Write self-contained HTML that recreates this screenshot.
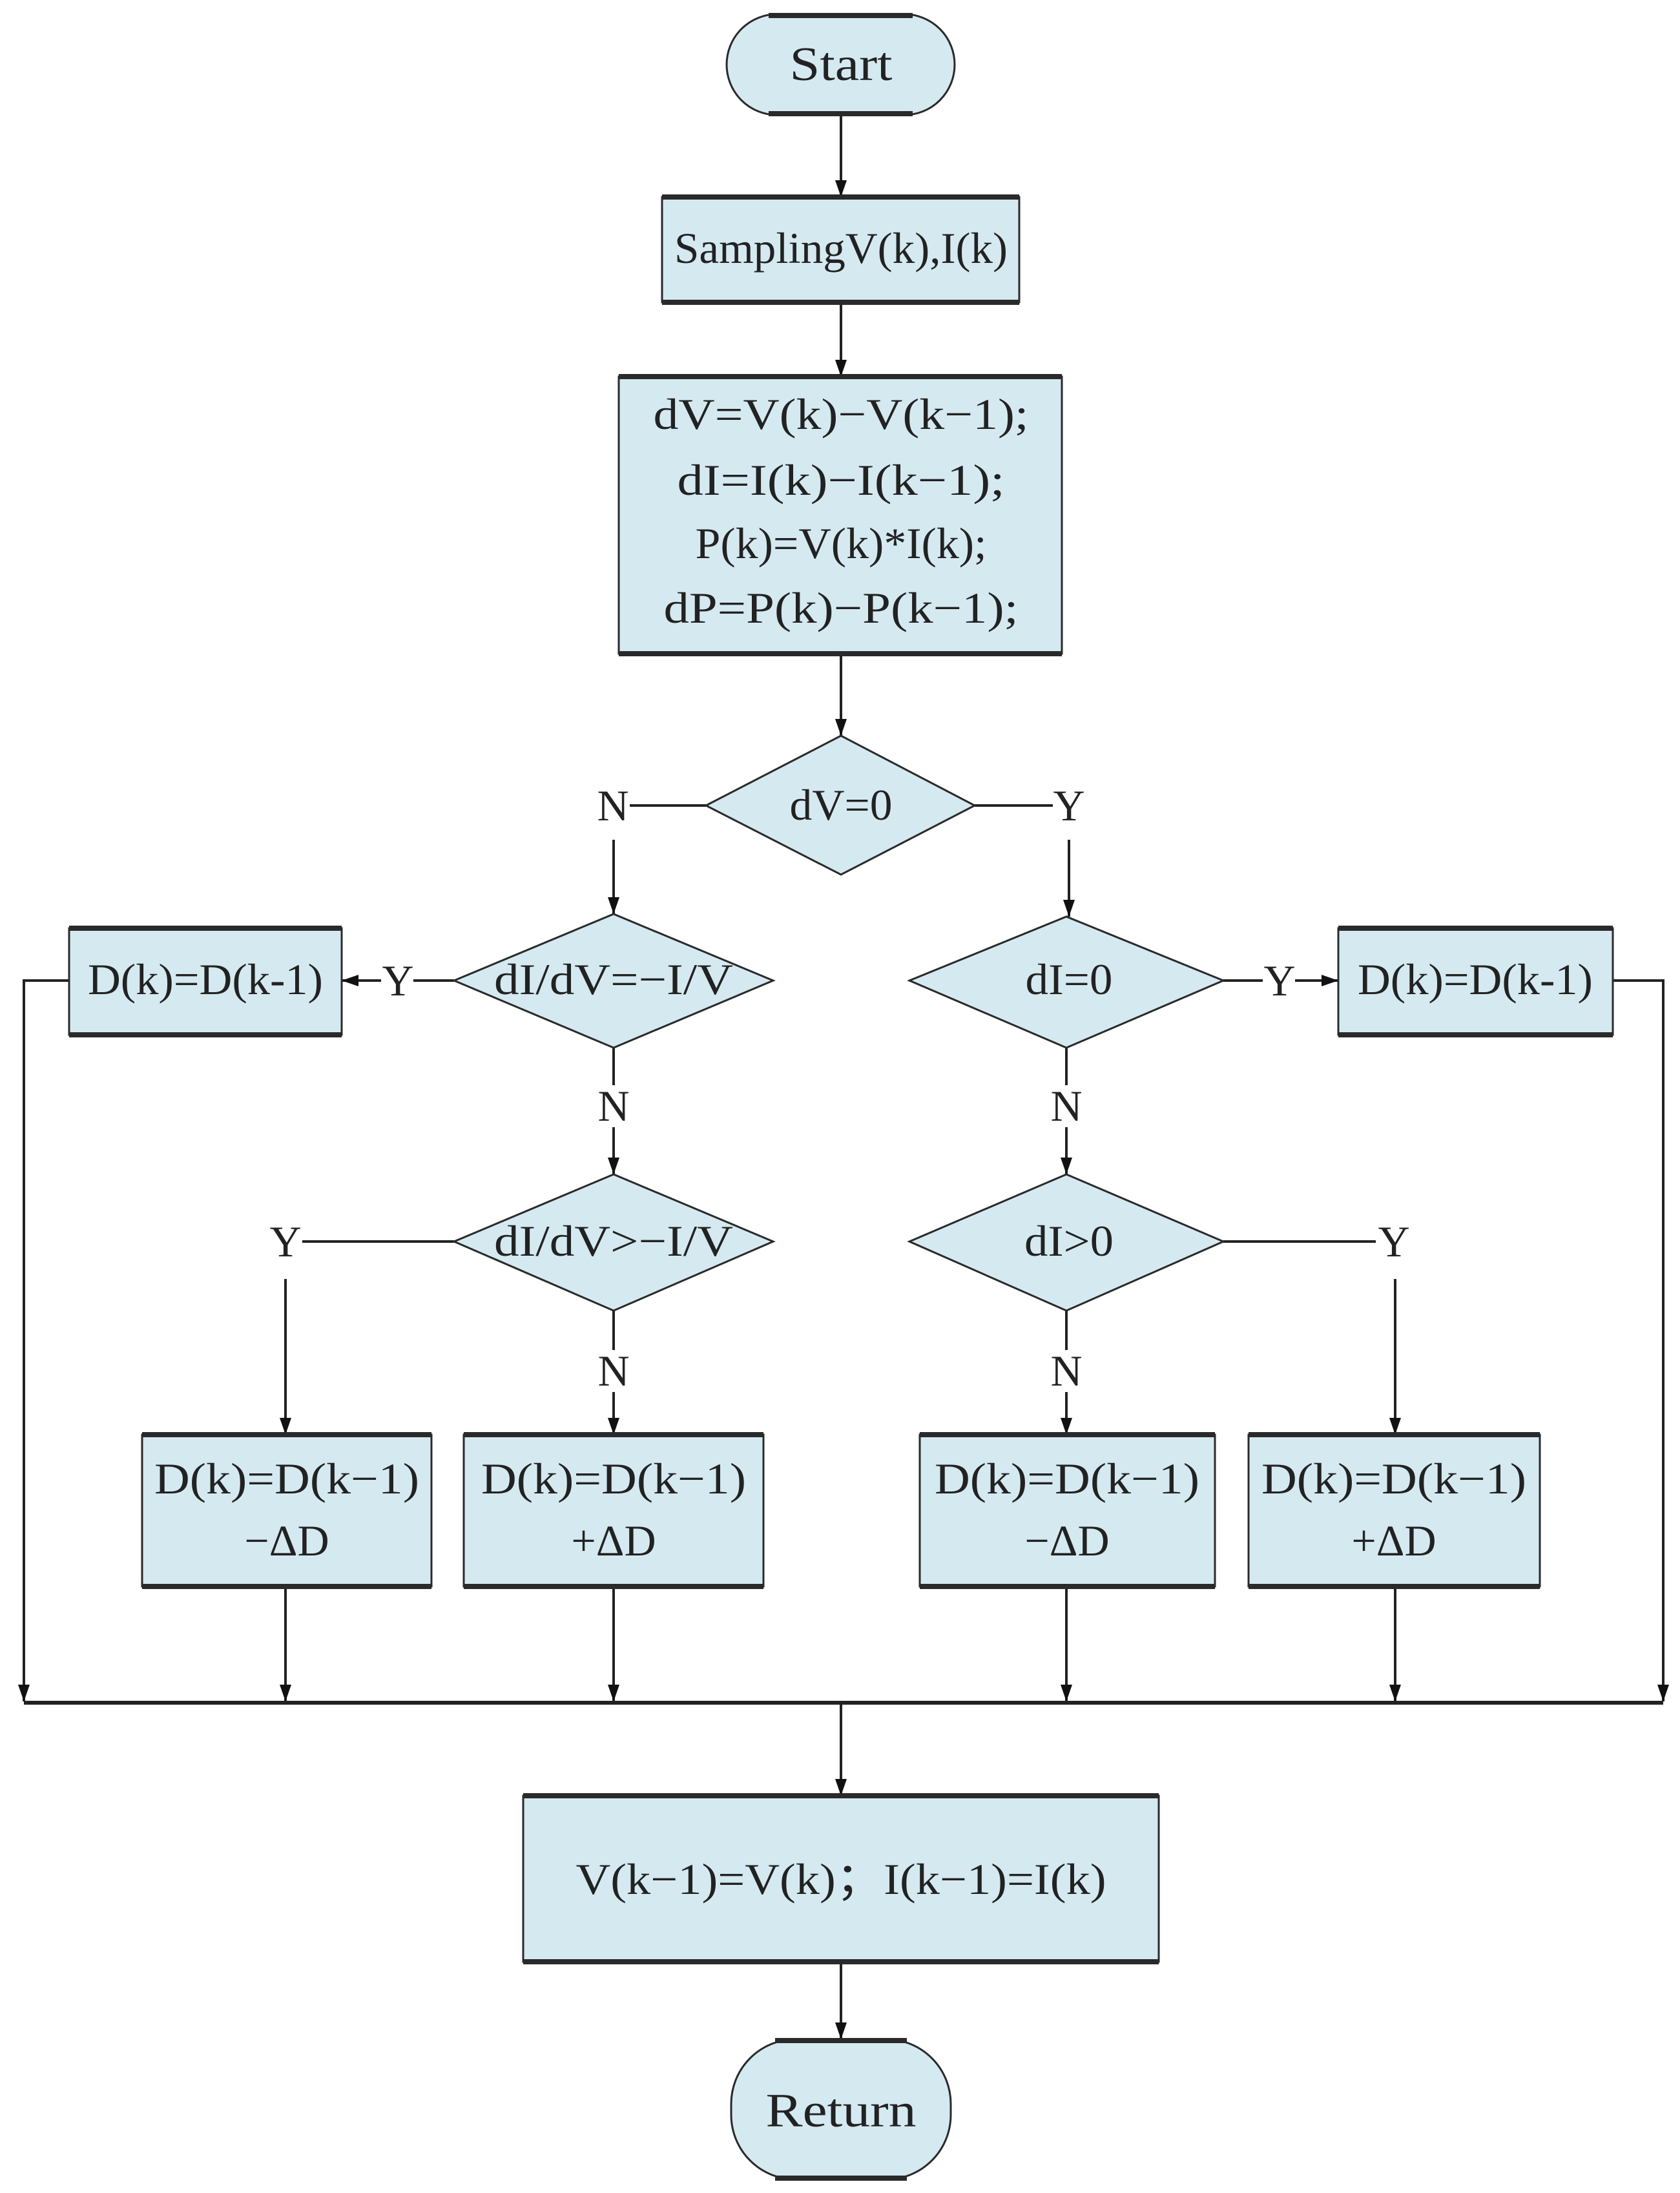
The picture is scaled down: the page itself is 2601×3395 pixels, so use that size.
<!DOCTYPE html>
<html><head><meta charset="utf-8"><style>html,body{margin:0;padding:0;background:#fff}svg{display:block}</style></head>
<body>
<svg width="2601" height="3395" viewBox="0 0 2601 3395" xmlns="http://www.w3.org/2000/svg" font-family="'Liberation Serif', serif" fill="#222">
<defs><marker id="a" markerWidth="12" markerHeight="12" refX="11" refY="6" orient="auto" markerUnits="userSpaceOnUse" viewBox="0 0 12 12"><path d="M0,0 L12,6 L0,12 Z" fill="#111"/></marker>
<marker id="b" markerWidth="26" markerHeight="34" refX="26" refY="9" orient="auto" markerUnits="userSpaceOnUse" viewBox="0 0 26 18"><path d="M0,0 L26,9 L0,18 Z" fill="#111"/></marker></defs>
<g stroke="#222" stroke-width="4" fill="none">
<!-- connectors -->
<line x1="1302" y1="178" x2="1302" y2="305" marker-end="url(#b)"/>
<line x1="1302" y1="468" x2="1302" y2="583" marker-end="url(#b)"/>
<line x1="1302" y1="1012" x2="1302" y2="1139" marker-end="url(#b)"/>
<line x1="975" y1="1247" x2="1093" y2="1247"/>
<line x1="1509" y1="1247" x2="1630" y2="1247"/>
<line x1="950" y1="1300" x2="950" y2="1415" marker-end="url(#b)"/>
<line x1="1655" y1="1300" x2="1655" y2="1419" marker-end="url(#b)"/>
<line x1="703" y1="1518" x2="640" y2="1518"/>
<line x1="590" y1="1518" x2="529" y2="1518" marker-end="url(#b)"/>
<line x1="1894" y1="1518" x2="1955" y2="1518"/>
<line x1="2005" y1="1518" x2="2072" y2="1518" marker-end="url(#b)"/>
<line x1="950" y1="1622" x2="950" y2="1680"/>
<line x1="950" y1="1745" x2="950" y2="1818" marker-end="url(#b)"/>
<line x1="1651" y1="1622" x2="1651" y2="1680"/>
<line x1="1651" y1="1745" x2="1651" y2="1818" marker-end="url(#b)"/>
<line x1="703" y1="1922" x2="468" y2="1922"/>
<line x1="1894" y1="1922" x2="2130" y2="1922"/>
<line x1="442" y1="1980" x2="442" y2="2221" marker-end="url(#b)"/>
<line x1="2160" y1="1980" x2="2160" y2="2221" marker-end="url(#b)"/>
<line x1="950" y1="2029" x2="950" y2="2090"/>
<line x1="950" y1="2155" x2="950" y2="2221" marker-end="url(#b)"/>
<line x1="1651" y1="2029" x2="1651" y2="2090"/>
<line x1="1651" y1="2155" x2="1651" y2="2221" marker-end="url(#b)"/>
<polyline points="107,1518 37,1518 37,2634" marker-end="url(#b)"/>
<polyline points="2497,1518 2575,1518 2575,2634" marker-end="url(#b)"/>
<line x1="442" y1="2456" x2="442" y2="2634" marker-end="url(#b)"/>
<line x1="950" y1="2456" x2="950" y2="2634" marker-end="url(#b)"/>
<line x1="1651" y1="2456" x2="1651" y2="2634" marker-end="url(#b)"/>
<line x1="2160" y1="2456" x2="2160" y2="2634" marker-end="url(#b)"/>
<line x1="37" y1="2636" x2="2575" y2="2636" stroke-width="6"/>
<line x1="1302" y1="2636" x2="1302" y2="2780" marker-end="url(#b)"/>
<line x1="1302" y1="3037" x2="1302" y2="3157" marker-end="url(#b)"/>
</g>
<g fill="#d5e9f1" stroke="#2a2a2a" stroke-width="3">
<rect x="1125" y="22" width="353" height="156" rx="78"/>
<rect x="1025" y="305" width="553" height="163"/>
<rect x="958" y="583" width="686" height="429"/>
<polygon points="1093,1247 1302,1139 1509,1247 1302,1354"/>
<polygon points="703,1518 950,1415 1197,1518 950,1622"/>
<polygon points="1408,1518 1651,1419 1894,1518 1651,1622"/>
<polygon points="703,1922 950,1818 1197,1922 950,2029"/>
<polygon points="1408,1922 1651,1818 1894,1922 1651,2029"/>
<rect x="107" y="1437" width="422" height="165"/>
<rect x="2072" y="1437" width="425" height="165"/>
<rect x="220" y="2221" width="448" height="235"/>
<rect x="718" y="2221" width="464" height="235"/>
<rect x="1424" y="2221" width="457" height="235"/>
<rect x="1933" y="2221" width="451" height="235"/>
<rect x="810" y="2780" width="984" height="257"/>
<rect x="1132" y="3157" width="340" height="217" rx="100"/>
</g>
<g stroke="#2a2a2a" stroke-width="8">
<line x1="1025" y1="305" x2="1578" y2="305"/><line x1="1025" y1="468" x2="1578" y2="468"/>
<line x1="958" y1="583" x2="1644" y2="583"/><line x1="958" y1="1012" x2="1644" y2="1012"/>
<line x1="107" y1="1437" x2="529" y2="1437"/><line x1="107" y1="1602" x2="529" y2="1602"/>
<line x1="2072" y1="1437" x2="2497" y2="1437"/><line x1="2072" y1="1602" x2="2497" y2="1602"/>
<line x1="220" y1="2221" x2="668" y2="2221"/><line x1="220" y1="2456" x2="668" y2="2456"/>
<line x1="718" y1="2221" x2="1182" y2="2221"/><line x1="718" y1="2456" x2="1182" y2="2456"/>
<line x1="1424" y1="2221" x2="1881" y2="2221"/><line x1="1424" y1="2456" x2="1881" y2="2456"/>
<line x1="1933" y1="2221" x2="2384" y2="2221"/><line x1="1933" y1="2456" x2="2384" y2="2456"/>
<line x1="810" y1="2780" x2="1794" y2="2780"/><line x1="810" y1="3037" x2="1794" y2="3037"/>
<line x1="1190" y1="24" x2="1413" y2="24"/><line x1="1190" y1="176" x2="1413" y2="176"/>
<line x1="1200" y1="3159" x2="1404" y2="3159"/><line x1="1200" y1="3372" x2="1404" y2="3372"/>
</g>
<g font-size="68" text-anchor="middle" lengthAdjust="spacingAndGlyphs">
<text x="1302" y="124" textLength="159" lengthAdjust="spacingAndGlyphs" font-size="74">Start</text>
<text x="1302" y="407" textLength="516" lengthAdjust="spacingAndGlyphs">SamplingV(k),I(k)</text>
<text x="1302" y="664" textLength="581" lengthAdjust="spacingAndGlyphs">dV=V(k)−V(k−1);</text>
<text x="1302" y="766" textLength="507" lengthAdjust="spacingAndGlyphs">dI=I(k)−I(k−1);</text>
<text x="1302" y="864" textLength="451" lengthAdjust="spacingAndGlyphs">P(k)=V(k)*I(k);</text>
<text x="1302" y="964" textLength="549" lengthAdjust="spacingAndGlyphs">dP=P(k)−P(k−1);</text>
<text x="1302" y="1269" textLength="159" lengthAdjust="spacingAndGlyphs">dV=0</text>
<text x="950" y="1539" textLength="370" lengthAdjust="spacingAndGlyphs">dI/dV=−I/V</text>
<text x="318" y="1539" textLength="364" lengthAdjust="spacingAndGlyphs">D(k)=D(k-1)</text>
<text x="1655" y="1539" textLength="135" lengthAdjust="spacingAndGlyphs">dI=0</text>
<text x="2284" y="1539" textLength="364" lengthAdjust="spacingAndGlyphs">D(k)=D(k-1)</text>
<text x="950" y="1944" textLength="370" lengthAdjust="spacingAndGlyphs">dI/dV&gt;−I/V</text>
<text x="1655" y="1944" textLength="138" lengthAdjust="spacingAndGlyphs">dI&gt;0</text>
<text x="444" y="2312" textLength="410" lengthAdjust="spacingAndGlyphs">D(k)=D(k−1)</text>
<text x="444" y="2408">−ΔD</text>
<text x="950" y="2312" textLength="410" lengthAdjust="spacingAndGlyphs">D(k)=D(k−1)</text>
<text x="950" y="2408">+ΔD</text>
<text x="1652" y="2312" textLength="410" lengthAdjust="spacingAndGlyphs">D(k)=D(k−1)</text>
<text x="1652" y="2408">−ΔD</text>
<text x="2158" y="2312" textLength="410" lengthAdjust="spacingAndGlyphs">D(k)=D(k−1)</text>
<text x="2158" y="2408">+ΔD</text>
<text x="1302" y="2932" textLength="821" lengthAdjust="spacingAndGlyphs">V(k−1)=V(k)；I(k−1)=I(k)</text>
<text x="1302" y="3292" textLength="233" lengthAdjust="spacingAndGlyphs" font-size="74">Return</text>
<text x="949" y="1270">N</text>
<text x="1655" y="1270">Y</text>
<text x="616" y="1541">Y</text>
<text x="1981" y="1541">Y</text>
<text x="950" y="1735">N</text>
<text x="1651" y="1735">N</text>
<text x="442" y="1945">Y</text>
<text x="2158" y="1945">Y</text>
<text x="950" y="2145">N</text>
<text x="1651" y="2145">N</text>
</g>
</svg>
</body></html>
